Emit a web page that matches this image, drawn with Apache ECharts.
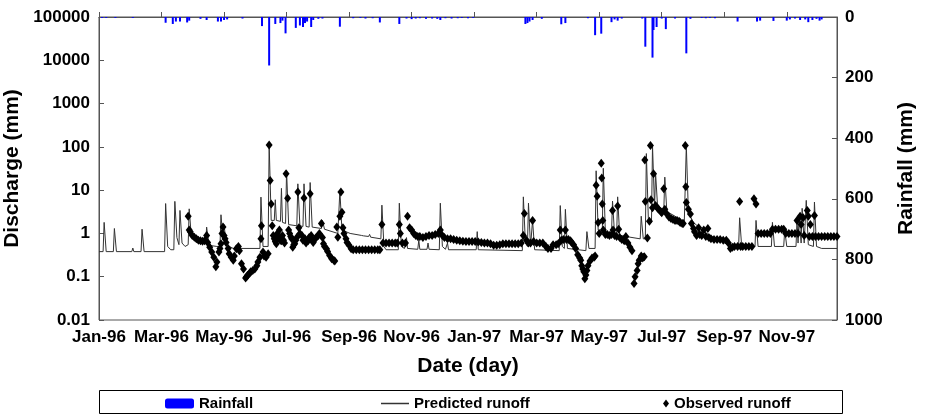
<!DOCTYPE html>
<html><head><meta charset="utf-8">
<script src="https://cdn.jsdelivr.net/npm/echarts@6/dist/echarts.min.js"></script>
<style>html,body{margin:0;padding:0;background:#fff}#c{width:925px;height:414px}</style>
</head><body><div id="c"></div>
<script>
// x axis: day index from 1 Jan 1996, ticks every 61 days
const xTickLabels = ['Jan-96','Mar-96','May-96','Jul-96','Sep-96','Nov-96','Jan-97','Mar-97','May-97','Jul-97','Sep-97','Nov-97'];
const yTickLabels = ['0.01','0.1','1','10','100','1000','10000','100000'];
const rainTickLabels = ['0','200','400','600','800','1000'];

// [day, rainfall mm]
const rainfall = [
[3,3],[7,3],[16,3],[33,3],[65,19],[72,23],[75,15],[79,15],[86,18],[88,12],[99,6],[105,10],[116,15],[119,15],[122,10],[125,8],[140,5],
[159,30],[166,160],[172,23],[177,20],[179,12],[182,54],[192,36],[196,28],[199,33],[201,20],[203,15],[207,33],[209,10],[214,6],[218,5],
[235,32],[248,4],[255,3],[260,5],[267,4],[274,18],[293,23],[300,5],[305,7],[309,5],[313,4],[319,6],[325,5],[330,6],[333,10],[338,4],
[344,5],[350,4],[354,3],[360,4],[365,3],[416,23],[418,20],[420,15],[423,10],[432,6],[451,24],[455,20],[477,4],[484,60],[490,55],
[500,17],[503,8],[506,12],[510,5],[530,5],[533,98],[540,134],[541,43],[544,33],[549,5],[553,40],[562,5],[573,120],[577,6],
[588,3],[592,4],[596,3],[601,4],[623,15],[642,15],[645,12],[658,13],[671,12],[674,8],[679,5],[684,10],[689,8],[692,17],[696,10],[700,6],[703,12],[705,8]
];

// [day, predicted runoff mm]
const predicted = [
[0,0.38],[4,0.38],[5,1.8],[7,0.38],[14,0.38],[15,1.3],[17,0.38],[32,0.38],[33,0.46],[34,0.38],[41,0.38],[42,1.25],[44,0.38],
[64,0.38],[65,4.9],[67,0.5],[70,0.42],[73,0.42],[74,5.5],[76,0.8],[78,0.55],[79,3.4],[81,0.6],[84,0.5],[87,0.55],[88,3.7],[90,0.9],
[93,0.7],[97,0.62],[100,0.6],[104,0.58],[105,1.4],[107,0.6],[110,0.52],[115,0.5],[118,0.5],[119,2.7],[121,0.7],[122,1.6],[124,0.6],
[127,0.5],[131,0.45],[157,0.45],[158,6.9],[160,0.5],[165,0.5],[166,118],[168,2.0],[171,2.0],[172,6],[173,2.0],[177,1.9],[178,11],
[179,1.8],[182,1.7],[183,28],[185,1.6],[193,1.5],[194,14],[196,1.5],[199,1.45],[200,14],[202,1.45],[205,1.4],[206,15],[208,1.4],
[217,1.3],[218,2.0],[220,1.25],[233,1.0],[235,9.7],[237,1.2],[245,1.0],[256,0.9],[257,1.0],[258,0.88],[263,0.85],[264,0.95],
[265,0.82],[275,0.75],[276,4.5],[278,0.5],[280,0.42],[292,0.42],[293,5],[295,0.5],[298,0.45],[300,0.8],[301,0.45],[311,0.43],
[312,0.7],[313,0.43],[320,0.43],[321,0.6],[322,0.43],[332,0.42],[333,5],[335,0.5],[338,0.43],[340,0.6],[341,0.42],[368,0.42],
[369,1.1],[370,0.42],[413,0.4],[414,7],[416,0.6],[418,0.5],[419,5],[421,0.5],[422,0.45],[423,2.0],[425,0.42],[449,0.4],[450,4.4],
[452,0.5],[454,0.45],[455,3.6],[457,0.45],[475,0.4],[476,1.1],[478,0.45],[484,0.45],[485,28],[487,1.2],[491,1.0],[492,32],[494,1.1],
[500,1.0],[501,5.6],[503,0.95],[505,0.9],[506,7],[508,0.9],[518,0.82],[528,0.75],[529,2.5],[531,0.75],[533,0.75],[534,70],[536,2.0],
[539,1.8],[540,107],[542,4.0],[543,25],[545,4.0],[551,3.3],[552,20],[554,3.2],[562,2.5],[571,1.8],[573,107],[575,3.0],[580,1.8],
[590,1.1],[600,0.8],[610,0.6],[620,0.52],[624,0.5],[625,2.3],[627,0.5],[640,0.5],[641,2.0],[643,0.5],[656,0.5],[657,1.8],[659,0.5],
[668,0.5],[669,1.2],[671,0.5],[680,0.5],[681,2.0],[682,0.6],[683,2.5],[685,0.6],[686,3.8],[688,0.6],[690,5.8],[692,0.55],[697,0.5],
[698,5.3],[700,0.5],[705,0.45],[720,0.45]
];

// [day, observed runoff mm]
const observed = [
[87,2.5],[88,1.2],[89,1.1],[91,0.9],[93,0.82],[95,0.75],[97,0.7],[99,0.68],[101,0.66],[103,0.68],[105,0.9],[106,0.62],[108,0.48],
[110,0.37],[112,0.28],[114,0.17],[115,0.22],[117,0.37],[118,0.45],[119,0.58],[120,1.0],[121,1.4],[122,0.9],[123,0.75],[124,0.62],
[126,0.45],[127,0.34],[129,0.28],[131,0.24],[132,0.3],[134,0.44],[136,0.5],[137,0.4],[139,0.2],[141,0.15],[143,0.093],[144,0.1],
[145,0.108],[147,0.12],[148,0.13],[150,0.14],[152,0.15],[154,0.18],[155,0.22],[157,0.28],[158,0.75],[158.5,1.5],[160,0.37],[161,0.3],
[163,0.28],[165,0.34],[166,110],[167,16.6],[168,4.8],[169,1.5],[170,0.9],[171,0.75],[172,0.65],[173,0.58],[174,1.0],[175,0.8],
[176,1.2],[177,0.7],[178,0.68],[179,0.9],[180,0.7],[181,0.6],[182.5,24],[184,6.5],[185,1.2],[186,1.0],[187,0.85],[188,0.75],
[189,0.48],[190,0.55],[191,0.58],[192,0.7],[193,0.8],[194,9],[195,1.35],[196,1.0],[198,0.9],[199,0.7],[200,6.6],[201,0.75],[202,0.6],
[204,0.68],[205,0.8],[206,8.2],[207,0.9],[208,0.7],[209,0.62],[211,0.75],[212,0.82],[214,0.9],[215,1.0],[217,1.7],[218,0.8],
[219,0.58],[220,0.5],[222,0.44],[223,0.38],[225,0.31],[227,0.26],[229,0.24],[230,0.23],[232,1.4],[233,0.82],[235,2.5],[236,9],
[237,3.1],[238,1.35],[239,1.0],[241,0.75],[242,0.62],[244,0.53],[246,0.44],[248,0.42],[251,0.42],[254,0.42],[257,0.42],[260,0.42],
[263,0.42],[266,0.42],[269,0.42],[272,0.42],[274,0.42],[276,1.6],[277,0.6],[280,0.6],[283,0.6],[286,0.6],[289,0.6],[291,0.6],
[293,1.6],[294,1.0],[296,0.6],[299,0.6],[301,2.5],[303,1.35],[305,1.2],[307,1.0],[309,0.9],[311,0.85],[313,0.85],[316,0.8],
[319,0.85],[322,0.9],[325,0.9],[328,0.95],[331,1.0],[333,1.2],[335,0.9],[337,0.8],[340,0.75],[343,0.75],[346,0.72],[349,0.7],
[352,0.68],[355,0.66],[358,0.65],[361,0.65],[364,0.65],[367,0.65],[370,0.63],[373,0.62],[376,0.6],[379,0.6],[382,0.58],[385,0.53],
[388,0.53],[391,0.55],[394,0.58],[397,0.58],[400,0.58],[403,0.58],[406,0.58],[409,0.58],[412,0.6],[414,0.9],[415,2.9],[417,0.7],
[419,0.6],[421,0.6],[423,2.0],[424,0.65],[427,0.6],[430,0.6],[433,0.6],[436,0.5],[438,0.45],[441,0.45],[443,0.55],[446,0.55],
[448,0.58],[450,1.2],[451,0.7],[453,0.72],[455,1.2],[456,0.72],[458,0.72],[460,0.68],[461,0.62],[463,0.55],[465,0.45],[467,0.32],
[469,0.27],[470,0.24],[471,0.18],[472,0.15],[473,0.13],[474,0.09],[475,0.11],[476,0.14],[477,0.18],[479,0.23],[481,0.27],[483,0.28],
[484,0.3],[485,13],[486,7.2],[487,1.8],[488,1.0],[490,42],[490.5,19],[491,4.8],[491.5,2.0],[492,1.2],[494,0.95],[496,0.95],[498,0.9],
[500,0.95],[501,3.4],[501.5,1.2],[503,0.9],[505,0.85],[506,4.3],[507,1.25],[508,0.8],[510,0.72],[512,0.7],[513,0.68],[514,0.85],
[516,0.6],[518,0.48],[520,0.4],[522,0.07],[523,0.1],[525,0.14],[526,0.2],[527,0.24],[529,0.3],[530,0.27],[531,0.28],[532,0.29],
[532.5,50],[533,5.5],[535,0.78],[537,1.9],[538,107],[538.5,6],[540,3.9],[541,24],[543,4.4],[545,3.8],[546,3.6],[548,3.2],[549,3.0],
[551,10.7],[552,3.6],[554,2.8],[556,2.4],[558,2.2],[560,2.1],[562,2.0],[564,2.0],[566,1.9],[567,1.8],[569,1.7],[570,1.7],[572,107],
[572.5,12],[573,5.2],[575,3.6],[577,2.8],[578,1.7],[580,1.3],[581,1.1],[583,0.9],[585,1.35],[586,0.95],[588,0.9],[590,1.2],[592,0.85],
[594,1.3],[595,0.8],[597,0.75],[600,0.72],[603,0.72],[606,0.72],[609,0.7],[612,0.7],[614,0.6],[616,0.45],[618,0.48],[620,0.5],
[623,0.5],[625,5.5],[626,0.5],[628,0.5],[631,0.5],[634,0.5],[637,0.5],[639,6.3],[641,4.8],[643,1.0],[646,1.0],[649,1.0],[652,1.0],
[655,1.0],[657,1.25],[660,1.25],[663,1.25],[666,1.25],[668,1.25],[670,1.0],[673,1.0],[676,1.0],[679,1.0],[681,2.0],[682,1.0],
[684,2.5],[685,1.6],[687,2.3],[688,0.9],[691,3.4],[692,2.5],[693,0.85],[694,1.6],[696,0.85],[698,2.6],[699,0.85],[702,0.85],
[705,0.85],[708,0.85],[711,0.85],[714,0.85],[717,0.85],[720,0.85]
];

const FONT = '"Liberation Sans", Arial, Helvetica, sans-serif';
const AX = '#555';
const chart = echarts.init(document.getElementById('c'), null, {renderer: 'canvas'});
const lbl = {fontFamily: FONT, fontWeight: 'bold', fontSize: 17, color: '#000'};
const nameStyle = {fontFamily: FONT, fontWeight: 'bold', fontSize: 21, color: '#000'};
const legText = {fontFamily: FONT, fontWeight: 'bold', fontSize: 15, color: '#000'};

chart.setOption({
  animation: false,
  backgroundColor: '#fff',
  grid: {left: 99, right: 88, top: 17, bottom: 94, show: true, borderColor: AX, borderWidth: 1,
         containLabel: false, outerBoundsMode: 'none'},
  xAxis: {
    type: 'value', min: 0, max: 720, interval: 61,
    name: 'Date (day)', nameLocation: 'middle', nameGap: 36, nameTextStyle: nameStyle,
    axisLine: {lineStyle: {color: AX}},
    axisTick: {inside: true, length: 5, lineStyle: {color: AX}},
    splitLine: {show: false},
    axisLabel: Object.assign({margin: 9, showMaxLabel: false, hideOverlap: false,
      formatter: v => { const i = Math.round(v / 61); return (Math.abs(v - i * 61) < 0.5 && xTickLabels[i]) ? xTickLabels[i] : ''; }}, lbl)
  },
  yAxis: [{
    type: 'log', logBase: 10, min: 0.01, max: 100000, splitNumber: 7,
    name: 'Discharge (mm)', nameLocation: 'middle', nameGap: 68, nameRotate: 90, nameTextStyle: nameStyle,
    axisLine: {show: true, lineStyle: {color: AX}},
    axisTick: {inside: true, length: 5, lineStyle: {color: AX}},
    splitLine: {show: false},
    axisLabel: Object.assign({margin: 9, formatter: v => yTickLabels[Math.round(Math.log10(v)) + 2] || ''}, lbl)
  }, {
    type: 'value', min: 0, max: 1000, interval: 200, inverse: true, position: 'right',
    name: 'Rainfall (mm)', nameLocation: 'middle', nameGap: 59, nameRotate: 90, nameTextStyle: nameStyle,
    axisLine: {show: true, lineStyle: {color: AX}},
    axisTick: {inside: true, length: 5, lineStyle: {color: AX}},
    splitLine: {show: false},
    axisLabel: Object.assign({margin: 8, formatter: v => rainTickLabels[Math.round(v / 200)] || ''}, lbl)
  }],
  legend: [
    {data: ['Rainfall'], left: 160, top: 391, itemWidth: 29, itemHeight: 10, selectedMode: false, textStyle: legText, itemGap: 4},
    {data: [{name: 'Predicted runoff', icon: 'rect'}], left: 376, top: 391, itemWidth: 28, itemHeight: 1.5,
     itemStyle: {color: '#333'}, selectedMode: false, textStyle: legText},
    {data: [{name: 'Observed runoff', icon: 'diamond'}], left: 658, top: 391, itemWidth: 6, itemHeight: 8, selectedMode: false, textStyle: legText, itemGap: 8}
  ],
  graphic: [{type: 'rect', left: 97, top: 388, z: 100, silent: true,
    shape: {width: 743, height: 23}, style: {fill: 'none', stroke: '#000', lineWidth: 1}}],
  series: [{
    name: 'Rainfall', type: 'bar', xAxisIndex: 0, yAxisIndex: 1, data: rainfall,
    barWidth: 2, itemStyle: {color: '#0000ff'}, z: 2
  }, {
    name: 'Predicted runoff', type: 'line', yAxisIndex: 0, data: predicted,
    symbol: 'none', lineStyle: {color: '#333', width: 1}, itemStyle: {color: '#333'}, z: 3
  }, {
    name: 'Observed runoff', type: 'scatter', yAxisIndex: 0, data: observed,
    symbol: 'diamond', symbolSize: [7, 9], itemStyle: {color: '#000', opacity: 1}, z: 4
  }]
});
</script></body></html>
